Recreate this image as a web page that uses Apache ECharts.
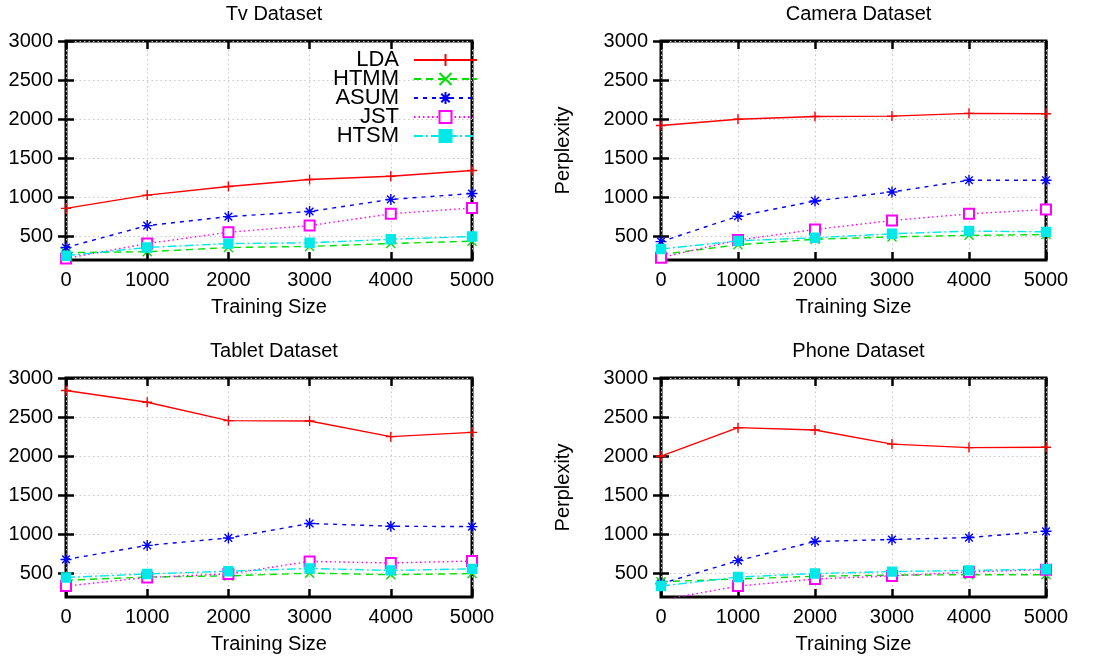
<!DOCTYPE html>
<html><head><meta charset="utf-8">
<script src="https://cdn.jsdelivr.net/npm/echarts@6/dist/echarts.min.js"></script>
<style>html,body{margin:0;padding:0;background:#fff}#c{width:1115px;height:656px}</style>
</head><body><div id="c"></div>
<script>
// ---------- data ----------
const trainingSizes = [0, 1000, 2000, 3000, 4000, 5000];
const yTickValues = [500, 1000, 1500, 2000, 2500, 3000];
const seriesNames = ['LDA', 'HTMM', 'ASUM', 'JST', 'HTSM'];
const panelTitles = ['Tv Dataset', 'Camera Dataset', 'Tablet Dataset', 'Phone Dataset'];

const tvLDA  = [860, 1030, 1140, 1230, 1270, 1345];
const tvHTMM = [295, 305, 360, 373, 411, 441];
const tvASUM = [360, 640, 755, 820, 975, 1050];
const tvJST  = [220, 410, 555, 640, 790, 865];
const tvHTSM = [255, 360, 410, 420, 465, 500];

const cameraLDA  = [1920, 2000, 2035, 2040, 2075, 2070];
const cameraHTMM = [270, 395, 465, 495, 515, 525];
const cameraASUM = [435, 760, 955, 1070, 1220, 1220];
const cameraJST  = [230, 455, 590, 705, 790, 845];
const cameraHTSM = [340, 445, 485, 535, 570, 560];

const tabletLDA  = [2840, 2690, 2455, 2450, 2250, 2305];
const tabletHTMM = [415, 455, 470, 505, 485, 500];
const tabletASUM = [680, 860, 955, 1140, 1105, 1100];
const tabletJST  = [340, 450, 495, 655, 635, 660];
const tabletHTSM = [450, 495, 530, 565, 540, 560];

const phoneLDA  = [2000, 2365, 2335, 2155, 2110, 2115];
const phoneHTMM = [395, 430, 465, 480, 485, 485];
const phoneASUM = [370, 665, 910, 935, 960, 1040];
const phoneJST  = [160, 340, 430, 470, 520, 550];
const phoneHTSM = [340, 455, 500, 525, 540, 555];

const panelData = [
  [tvLDA, tvHTMM, tvASUM, tvJST, tvHTSM],
  [cameraLDA, cameraHTMM, cameraASUM, cameraJST, cameraHTSM],
  [tabletLDA, tabletHTMM, tabletASUM, tabletJST, tabletHTSM],
  [phoneLDA, phoneHTMM, phoneASUM, phoneJST, phoneHTSM]
];

// ---------- styles ----------
const FONT = 'Liberation Sans';
const colors = ['#ff0000', '#00e000', '#0000ff', '#ff00ff', '#00e8e8'];
const dashTypes = ['solid', [7, 5], [4, 5], [1.5, 3], [9, 3, 2, 3]];
const symbols = [
  'path://M5,0L5,10M0,5L10,5',
  'path://M0,0L10,10M0,10L10,0',
  'path://M5,0L5,10M0,5L10,5M1.5,1.5L8.5,8.5M1.5,8.5L8.5,1.5',
  'emptyRect',
  'rect'
];
const symbolSizes = [10, 9, 11, 10, 9];

const grids = [
  {left: 66, top: 41, width: 406, height: 219},
  {left: 661, top: 41, width: 385, height: 219},
  {left: 66, top: 378, width: 406, height: 219},
  {left: 661, top: 378, width: 385, height: 219}
];
const hasYName = [false, true, false, true];

const tickStyle = {show: true, inside: true, length: 8, lineStyle: {color: '#000', width: 2.5}};
const splitStyle = {show: true, lineStyle: {color: '#c8c8c8', width: 1, type: [1.5, 3]}};
const plainNum = v => String(v);

const option = {
  animation: false,
  backgroundColor: '#fff',
  textStyle: {fontFamily: FONT},
  title: panelTitles.map((t, i) => ({
    text: t,
    left: grids[i].left + grids[i].width / 2,
    top: grids[i].top - 42,
    textAlign: 'center',
    textStyle: {fontFamily: FONT, fontSize: 20, fontWeight: 'normal', color: '#000'}
  })),
  legend: {
    data: seriesNames,
    orient: 'vertical',
    align: 'right',
    right: 637,
    top: 49,
    padding: 0,
    itemWidth: 63,
    itemHeight: 15,
    itemGap: -3,
    formatter: '{a|{name}}',
    textStyle: {
      fontFamily: FONT, fontSize: 22, color: '#000',
      rich: {a: {fontFamily: FONT, fontSize: 22, color: '#000', padding: [0, 10, 0, 0]}}
    }
  },
  grid: grids.map(g => Object.assign({show: true, borderColor: '#000', borderWidth: 3, backgroundColor: 'transparent', containLabel: false}, g)),
  xAxis: [],
  yAxis: [],
  series: []
};

grids.forEach((g, i) => {
  option.xAxis.push({
    type: 'value', gridIndex: i, min: 0, max: 5000, interval: 1000, position: 'bottom',
    name: 'Training Size', nameLocation: 'middle', nameGap: 37,
    nameTextStyle: {fontFamily: FONT, fontSize: 20, color: '#000'},
    axisLine: {show: false},
    axisTick: tickStyle,
    axisLabel: {fontFamily: FONT, fontSize: 20, color: '#000', margin: 10, formatter: plainNum},
    splitLine: splitStyle
  });
  option.xAxis.push({
    type: 'value', gridIndex: i, min: 0, max: 5000, interval: 1000, position: 'top',
    axisLine: {show: false}, axisTick: tickStyle, axisLabel: {show: false}, splitLine: {show: false}
  });
  option.yAxis.push({
    type: 'value', gridIndex: i, min: 200, max: 3000, position: 'left',
    name: hasYName[i] ? 'Perplexity' : '', nameLocation: 'middle', nameGap: 88, nameRotate: 90,
    nameTextStyle: {fontFamily: FONT, fontSize: 20, color: '#000'},
    axisLine: {show: false},
    axisTick: Object.assign({customValues: yTickValues}, tickStyle),
    axisLabel: {fontFamily: FONT, fontSize: 20, color: '#000', margin: 13, customValues: yTickValues, formatter: plainNum},
    splitLine: splitStyle
  });
  option.yAxis.push({
    type: 'value', gridIndex: i, min: 200, max: 3000, position: 'right',
    axisLine: {show: false},
    axisTick: Object.assign({customValues: yTickValues}, tickStyle),
    axisLabel: {show: false, customValues: yTickValues}, splitLine: {show: false}
  });

  seriesNames.forEach((name, k) => {
    option.series.push({
      type: 'line', name: name,
      xAxisIndex: 2 * i, yAxisIndex: 2 * i,
      data: trainingSizes.map((x, j) => [x, panelData[i][k][j]]),
      symbol: symbols[k], symbolSize: symbolSizes[k], showSymbol: true,
      clip: true,
      lineStyle: {color: colors[k], width: 1.4, type: dashTypes[k]},
      itemStyle: {color: colors[k], borderColor: colors[k], borderWidth: 1.4},
      emphasis: {disabled: true},
      z: 3 + k
    });
  });
});

const chart = echarts.init(document.getElementById('c'), null, {renderer: 'canvas'});
chart.setOption(option);
</script>
</body></html>
